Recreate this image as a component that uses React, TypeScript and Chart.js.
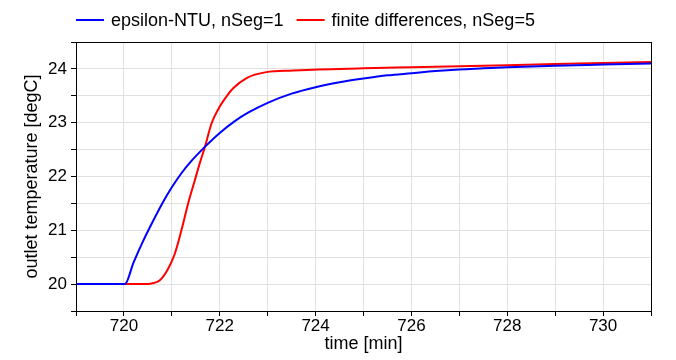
import React, { useEffect, useRef } from "react";
import { Chart, registerables } from "chart.js";

Chart.register(...registerables);

const seriesNames = ["epsilon-NTU, nSeg=1", "finite differences, nSeg=5"];
const seriesColors = ["#0000ff", "#ff0000"];

const blueTime = [719, 720.02, 720.2, 720.4, 720.6, 720.8, 721.0, 721.2, 721.4, 721.7, 722.0, 722.3, 722.6, 723.0, 723.5, 724.0, 724.5, 725, 725.5, 726, 726.5, 727, 727.5, 728, 729, 730, 731];
const blueTemp = [20, 20.0, 20.4, 20.8, 21.16, 21.5, 21.8, 22.06, 22.28, 22.56, 22.81, 23.02, 23.19, 23.37, 23.54, 23.66, 23.75, 23.82, 23.88, 23.92, 23.96, 23.99, 24.01, 24.03, 24.06, 24.08, 24.1];

const redTime = [719, 720.5, 720.62, 720.75, 720.92, 721.06, 721.2, 721.34, 721.48, 721.58, 721.69, 721.83, 722.0, 722.15, 722.28, 722.56, 722.97, 723.53, 724.05, 725, 726, 727, 728, 729, 730, 731];
const redTemp = [20, 20.0, 20.02, 20.07, 20.28, 20.56, 21.0, 21.5, 21.93, 22.24, 22.55, 22.99, 23.3, 23.5, 23.64, 23.83, 23.94, 23.97, 23.99, 24.01, 24.03, 24.05, 24.07, 24.09, 24.11, 24.13];

const xMin = 719;
const xMax = 731;
const yMin = 19.5;
const yMax = 24.5;
const xTitle = "time [min]";
const yTitle = "outlet temperature [degC]";

const FONT = "'Liberation Sans', Arial, Helvetica, sans-serif";

const frameAndLegend = {
  id: "frameAndLegend",
  afterDraw(chart: any) {
    const { ctx, chartArea } = chart;
    ctx.save();
    ctx.strokeStyle = "#000";
    ctx.lineWidth = 1;
    ctx.strokeRect(
      Math.round(chartArea.left) + 0.5,
      Math.round(chartArea.top) + 0.5,
      Math.round(chartArea.right - chartArea.left),
      Math.round(chartArea.bottom - chartArea.top)
    );
    // legend
    ctx.font = "18px " + FONT;
    ctx.textBaseline = "middle";
    ctx.textAlign = "left";
    let x = 76;
    const y = 20;
    chart.data.datasets.forEach((ds: any) => {
      ctx.strokeStyle = ds.borderColor;
      ctx.lineWidth = 2;
      ctx.beginPath();
      ctx.moveTo(x, y);
      ctx.lineTo(x + 28, y);
      ctx.stroke();
      ctx.fillStyle = "#000";
      ctx.fillText(ds.label, x + 35, y + 1);
      x += 35 + ctx.measureText(ds.label).width + 13;
    });
    ctx.restore();
  },
};

export default function App() {
  const ref = useRef<HTMLCanvasElement>(null);
  useEffect(() => {
    if (!ref.current) return;
    const mk = (t: number[], v: number[]) => t.map((x, i) => ({ x, y: v[i] }));
    const chart = new Chart(ref.current, {
      type: "line",
      data: {
        datasets: [
          {
            label: seriesNames[0],
            data: mk(blueTime, blueTemp),
            borderColor: seriesColors[0],
            backgroundColor: seriesColors[0],
            borderWidth: 2,
            pointRadius: 0,
            cubicInterpolationMode: "monotone",
          },
          {
            label: seriesNames[1],
            data: mk(redTime, redTemp),
            borderColor: seriesColors[1],
            backgroundColor: seriesColors[1],
            borderWidth: 2,
            pointRadius: 0,
            cubicInterpolationMode: "monotone",
          },
        ],
      },
      options: {
        responsive: false,
        animation: false,
        devicePixelRatio: 1,
        layout: { padding: { left: 0, top: 42, right: 25, bottom: 0 } },
        plugins: { legend: { display: false }, tooltip: { enabled: false } },
        scales: {
          x: {
            type: "linear",
            min: xMin,
            max: xMax,
            afterFit: (s: any) => {
              s.height = 49;
            },
            ticks: {
              stepSize: 1,
              autoSkip: false,
              maxRotation: 0,
              padding: 0,
              color: "#000",
              font: { family: FONT, size: 17 },
              callback: (v: any) => (Number(v) % 2 === 0 ? String(v) : ""),
            },
            grid: { color: "#e0e0e0", tickColor: "#000", tickLength: 5, lineWidth: 1 },
            border: { color: "#000", width: 1 },
            title: {
              display: true,
              text: xTitle,
              color: "#000",
              font: { family: FONT, size: 18 },
              padding: { top: 0, bottom: 5 },
            },
          },
          y: {
            type: "linear",
            min: yMin,
            max: yMax,
            afterFit: (s: any) => {
              s.width = 76;
            },
            ticks: {
              stepSize: 0.5,
              autoSkip: false,
              padding: 4,
              color: "#000",
              font: { family: FONT, size: 17 },
              callback: (v: any) => (Number.isInteger(Number(v)) ? String(v) : ""),
            },
            grid: { color: "#e0e0e0", tickColor: "#000", tickLength: 5, lineWidth: 1 },
            border: { color: "#000", width: 1 },
            title: {
              display: true,
              text: yTitle,
              color: "#000",
              font: { family: FONT, size: 18 },
              padding: { top: 21, bottom: 0 },
            },
          },
        },
      },
      plugins: [frameAndLegend],
    } as any);
    return () => chart.destroy();
  }, []);
  return (
    <div style={{ position: "absolute", left: 0, top: 0, width: 676, height: 360, background: "#fff" }}>
      <canvas ref={ref} width={676} height={360} />
    </div>
  );
}
